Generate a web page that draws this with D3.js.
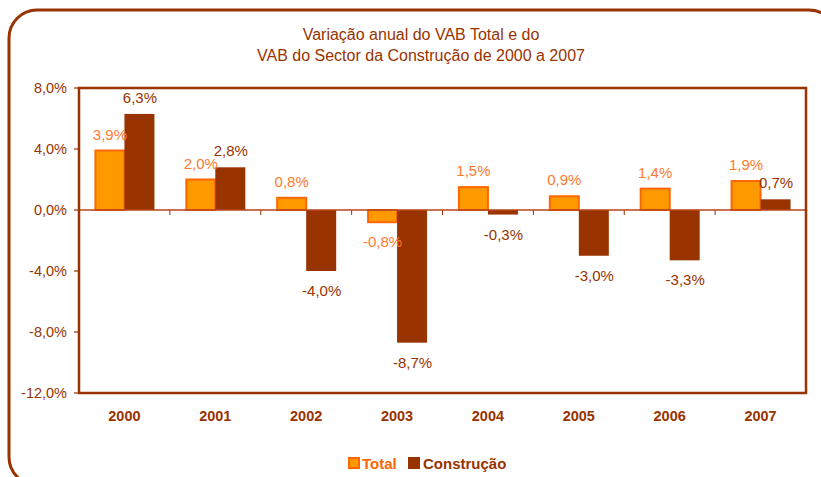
<!DOCTYPE html>
<html>
<head>
<meta charset="utf-8">
<script src="https://cdn.jsdelivr.net/npm/d3@7"></script>
<style>
  body { margin: 0; background: #fff; }
  svg { font-family: "Liberation Sans", Arial, sans-serif; }
</style>
</head>
<body>
<svg id="chart" width="821" height="477"></svg>
<script>
const years = ['2000', '2001', '2002', '2003', '2004', '2005', '2006', '2007'];
const total = [3.9, 2.0, 0.8, -0.8, 1.5, 0.9, 1.4, 1.9];
const construcao = [6.3, 2.8, -4.0, -8.7, -0.3, -3.0, -3.3, 0.7];
const yTicks = [8, 4, 0, -4, -8, -12];
const seriesNames = ['Total', 'Construção'];

const brown = '#993300';
const orangeFill = '#FF9900';
const orangeStroke = '#FF6600';
const orangeText = '#FF7A2E';

const svg = d3.select('#chart');

// outer rounded frame (runs past the right and bottom edges)
svg.append('rect')
  .attr('x', 9).attr('y', 10)
  .attr('width', 828).attr('height', 475)
  .attr('rx', 28)
  .attr('fill', 'none')
  .attr('stroke', brown)
  .attr('stroke-width', 3);

// title
svg.append('text')
  .attr('x', 421).attr('y', 40)
  .attr('text-anchor', 'middle')
  .attr('fill', brown)
  .style('font-size', '16px')
  .text('Variação anual do VAB Total e do');
svg.append('text')
  .attr('x', 421).attr('y', 61)
  .attr('text-anchor', 'middle')
  .attr('fill', brown)
  .style('font-size', '16px')
  .text('VAB do Sector da Construção de 2000 a 2007');

const x0 = 79, x1 = 806;
const yScale = d3.scaleLinear().domain([-12, 8]).range([393, 88]);
const xScale = d3.scaleBand().domain(years).range([x0, x1]);
const barW = 29;

const fmt = v => d3.format('.1f')(v).replace('.', ',').replace('−', '-') + '%';

// y axis labels + ticks
svg.selectAll('.ytick')
  .data(yTicks).enter().append('text')
  .attr('x', 67)
  .attr('y', d => yScale(d) + 5)
  .attr('text-anchor', 'end')
  .attr('fill', brown)
  .style('font-size', '14.5px')
  .text(fmt);

svg.selectAll('.ytickmark')
  .data(yTicks).enter().append('line')
  .attr('x1', 74).attr('x2', x0)
  .attr('y1', d => yScale(d)).attr('y2', d => yScale(d))
  .attr('stroke', brown).attr('stroke-width', 1.2);

// category ticks on zero line
svg.selectAll('.xtickmark')
  .data(years.slice(1)).enter().append('line')
  .attr('x1', d => xScale(d)).attr('x2', d => xScale(d))
  .attr('y1', yScale(0)).attr('y2', yScale(0) + 5)
  .attr('stroke', brown).attr('stroke-width', 1);

// bars
const cx = d => xScale(d) + xScale.bandwidth() / 2;
const barTop = v => Math.min(yScale(v), yScale(0));
const barH = v => Math.abs(yScale(v) - yScale(0));

svg.selectAll('.bar-total')
  .data(years).enter().append('rect')
  .attr('x', d => cx(d) - barW)
  .attr('y', (d, i) => barTop(total[i]))
  .attr('width', barW)
  .attr('height', (d, i) => barH(total[i]))
  .attr('fill', orangeFill)
  .attr('stroke', orangeStroke)
  .attr('stroke-width', 2);

svg.selectAll('.bar-cons')
  .data(years).enter().append('rect')
  .attr('x', d => cx(d))
  .attr('y', (d, i) => barTop(construcao[i]))
  .attr('width', barW + 1)
  .attr('height', (d, i) => barH(construcao[i]))
  .attr('fill', brown);

// zero line
svg.append('line')
  .attr('x1', x0).attr('x2', x1)
  .attr('y1', yScale(0)).attr('y2', yScale(0))
  .attr('stroke', '#B8441A').attr('stroke-width', 1.5);

// plot frame
svg.append('rect')
  .attr('x', x0).attr('y', yScale(8))
  .attr('width', x1 - x0).attr('height', yScale(-12) - yScale(8))
  .attr('fill', 'none')
  .attr('stroke', brown)
  .attr('stroke-width', 2.5);

// value labels
const labelY = v => v >= 0 ? yScale(v) - 11 : yScale(v) + 25;

svg.selectAll('.lab-total')
  .data(years).enter().append('text')
  .attr('x', d => cx(d) - barW / 2)
  .attr('y', (d, i) => labelY(total[i]))
  .attr('text-anchor', 'middle')
  .attr('fill', orangeText)
  .style('font-size', '15px')
  .text((d, i) => fmt(total[i]));

svg.selectAll('.lab-cons')
  .data(years).enter().append('text')
  .attr('x', d => cx(d) + barW / 2 + 1)
  .attr('y', (d, i) => labelY(construcao[i]))
  .attr('text-anchor', 'middle')
  .attr('fill', brown)
  .style('font-size', '15px')
  .text((d, i) => fmt(construcao[i]));

// x labels
svg.selectAll('.xlab')
  .data(years).enter().append('text')
  .attr('x', d => cx(d))
  .attr('y', 421)
  .attr('text-anchor', 'middle')
  .attr('fill', brown)
  .style('font-size', '14.5px')
  .style('font-weight', 'bold')
  .text(d => d);

// legend
const legend = svg.append('g');
legend.append('rect')
  .attr('x', 349).attr('y', 458).attr('width', 10).attr('height', 10)
  .attr('fill', orangeFill).attr('stroke', orangeStroke).attr('stroke-width', 2);
legend.append('text')
  .attr('x', 362).attr('y', 469)
  .attr('fill', orangeStroke)
  .style('font-size', '15px').style('font-weight', 'bold')
  .text(seriesNames[0]);
legend.append('rect')
  .attr('x', 408).attr('y', 457).attr('width', 12).attr('height', 12)
  .attr('fill', brown);
legend.append('text')
  .attr('x', 423).attr('y', 469)
  .attr('fill', brown)
  .style('font-size', '15px').style('font-weight', 'bold')
  .text(seriesNames[1]);
</script>
</body>
</html>
